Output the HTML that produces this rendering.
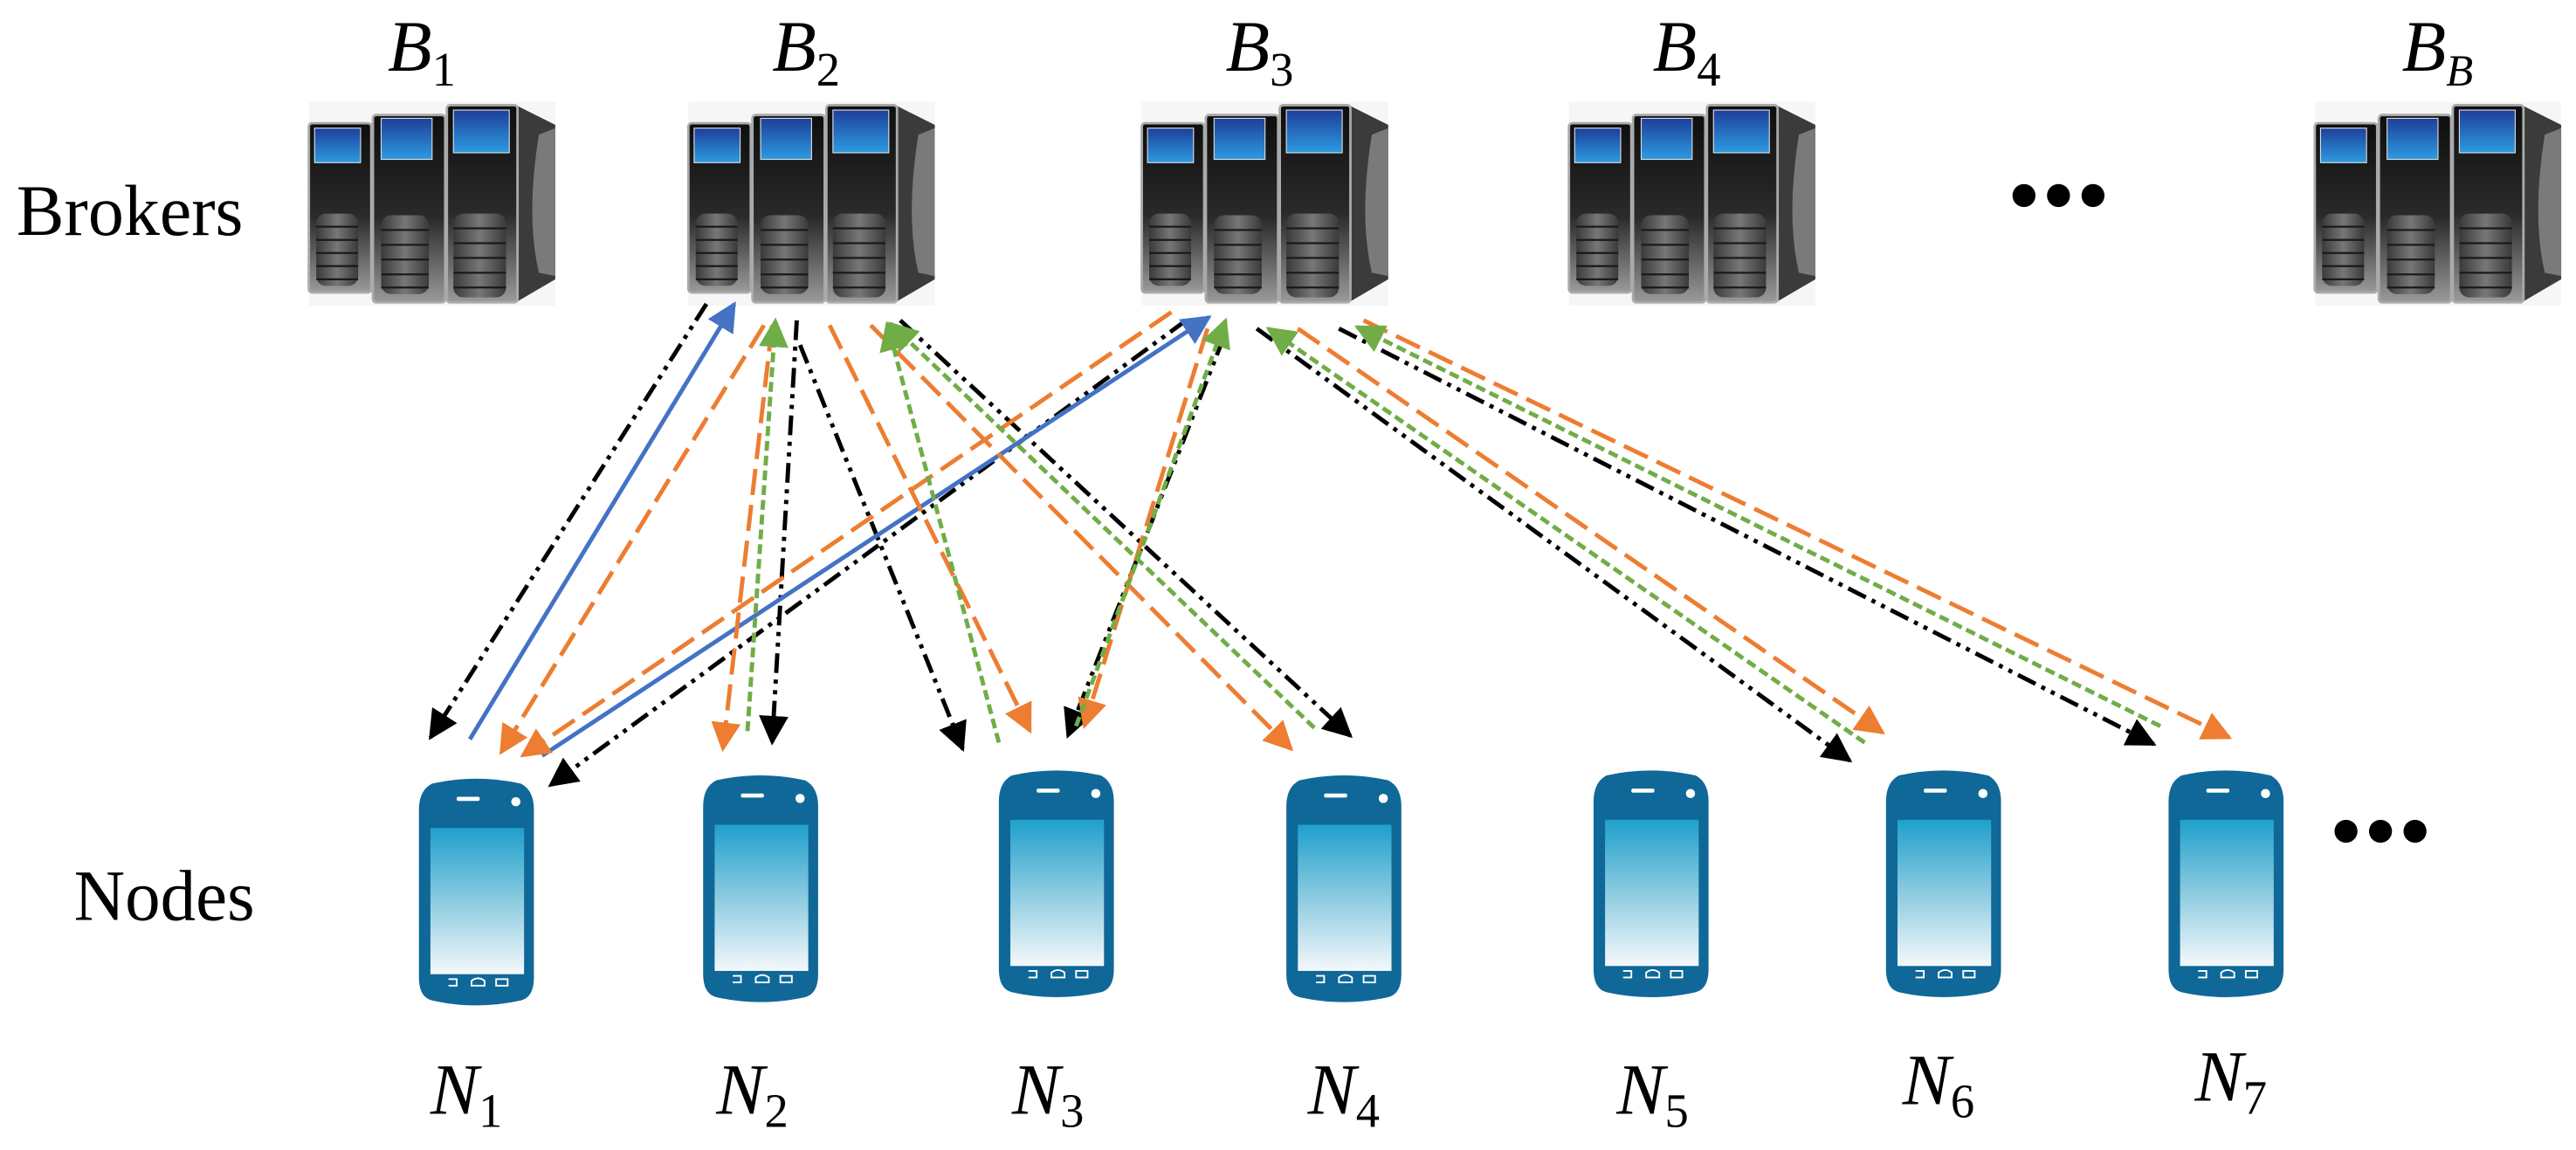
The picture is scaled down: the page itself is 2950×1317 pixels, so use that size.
<!DOCTYPE html>
<html><head><meta charset="utf-8"><style>html,body{margin:0;padding:0;background:#fff}svg{display:block}</style></head>
<body>
<svg width="2950" height="1317" viewBox="0 0 1568 700" xmlns="http://www.w3.org/2000/svg">
<defs>
<linearGradient id="tw" x1="0" y1="0" x2="0" y2="1"><stop offset="0" stop-color="#0e0e0e"/><stop offset="0.55" stop-color="#2a2a2a"/><stop offset="1" stop-color="#9a9a9a"/></linearGradient>
<linearGradient id="scr" x1="0" y1="0" x2="0" y2="1"><stop offset="0" stop-color="#1d3f9a"/><stop offset="1" stop-color="#2d9be0"/></linearGradient>
<linearGradient id="bay" x1="0" y1="0" x2="1" y2="0"><stop offset="0" stop-color="#3a3a3a"/><stop offset="0.5" stop-color="#777"/><stop offset="1" stop-color="#3a3a3a"/></linearGradient>
<linearGradient id="ph" x1="0" y1="0" x2="0" y2="1"><stop offset="0" stop-color="#1fa0cc"/><stop offset="0.5" stop-color="#8ccbe0"/><stop offset="1" stop-color="#f4f8fb"/></linearGradient>
<g id="srv">
<rect x="0" y="0" width="150" height="124" fill="#f6f6f6"/>
<polygon points="126,2 150,14 150,108 126,122" fill="#3b3b3b"/>
<path d="M140,20 Q132,70 140,104 L150,106 L150,16Z" fill="#7a7a7a"/>
<rect x="0" y="13" width="38" height="103" rx="2" fill="url(#tw)" stroke="#aaa" stroke-width="1.5"/>
<rect x="3.5" y="16" width="28" height="21" fill="url(#scr)" stroke="#ddd" stroke-width="0.6"/>
<rect x="4.5" y="68" width="25.5" height="44" rx="6" fill="url(#bay)"/>
<g stroke="#1a1a1a" stroke-width="1.2"><line x1="4.5" y1="76" x2="30" y2="76"/><line x1="4.5" y1="84" x2="30" y2="84"/><line x1="4.5" y1="92" x2="30" y2="92"/><line x1="4.5" y1="100" x2="30" y2="100"/><line x1="4.5" y1="108" x2="30" y2="108"/></g>
<rect x="39" y="8" width="44" height="114" rx="2" fill="url(#tw)" stroke="#aaa" stroke-width="1.5"/>
<rect x="44" y="10" width="31" height="25" fill="url(#scr)" stroke="#ddd" stroke-width="0.6"/>
<rect x="44" y="69" width="29" height="48" rx="6" fill="url(#bay)"/>
<g stroke="#1a1a1a" stroke-width="1.2"><line x1="44" y1="78" x2="73" y2="78"/><line x1="44" y1="87" x2="73" y2="87"/><line x1="44" y1="96" x2="73" y2="96"/><line x1="44" y1="105" x2="73" y2="105"/><line x1="44" y1="113" x2="73" y2="113"/></g>
<rect x="84" y="2" width="43" height="120" rx="2" fill="url(#tw)" stroke="#aaa" stroke-width="1.5"/>
<rect x="88" y="5" width="34" height="26" fill="url(#scr)" stroke="#ddd" stroke-width="0.6"/>
<rect x="88" y="68" width="32" height="51" rx="6" fill="url(#bay)"/>
<g stroke="#1a1a1a" stroke-width="1.2"><line x1="88" y1="77" x2="120" y2="77"/><line x1="88" y1="86" x2="120" y2="86"/><line x1="88" y1="95" x2="120" y2="95"/><line x1="88" y1="104" x2="120" y2="104"/><line x1="88" y1="113" x2="120" y2="113"/></g>
</g>
<g id="phn">
<path d="M8,4 Q35,-2 62,4 Q70,8 70,20 L70,122 Q70,134 62,136 Q35,142 8,136 Q0,134 0,122 L0,20 Q0,8 8,4Z" fill="#0f6898"/>
<rect x="23" y="12" width="14" height="2.5" rx="1" fill="#fff"/>
<circle cx="59" cy="15" r="2.8" fill="#fff"/>
<rect x="7" y="31" width="57" height="89" fill="url(#ph)"/>
<g stroke="#fff" stroke-width="1" fill="none"><path d="M18,123 h5 v4 h-5"/><path d="M32,127 v-3 q4,-3 8,0 v3 z"/><rect x="47" y="123" width="7" height="4"/></g>
</g>
<marker id="ao" viewBox="0 0 10 10" refX="9" refY="5" markerWidth="18" markerHeight="18" orient="auto" markerUnits="userSpaceOnUse"><path d="M0,0 L10,5 L0,10z" fill="#ed7d31"/></marker>
<marker id="ag" viewBox="0 0 10 10" refX="9" refY="5" markerWidth="18" markerHeight="18" orient="auto" markerUnits="userSpaceOnUse"><path d="M0,0 L10,5 L0,10z" fill="#70ad47"/></marker>
<marker id="ab" viewBox="0 0 10 10" refX="9" refY="5" markerWidth="18" markerHeight="18" orient="auto" markerUnits="userSpaceOnUse"><path d="M0,0 L10,5 L0,10z" fill="#4472c4"/></marker>
<marker id="ak2" viewBox="0 0 10 10" refX="9" refY="5" markerWidth="18" markerHeight="18" orient="auto" markerUnits="userSpaceOnUse"><path d="M0,0 L10,5 L0,10z" fill="#000"/></marker>
</defs>

<g font-family="Liberation Serif, serif" font-size="44" fill="#000">
<text x="10" y="143" textLength="138" lengthAdjust="spacingAndGlyphs">Brokers</text>
<text x="45" y="560" textLength="110" lengthAdjust="spacingAndGlyphs">Nodes</text>
</g>
<g font-family="Liberation Serif, serif" font-style="italic" font-size="44">
<text x="236" y="43">B<tspan font-style="normal" font-size="29" dy="9">1</tspan></text>
<text x="470" y="43">B<tspan font-style="normal" font-size="29" dy="9">2</tspan></text>
<text x="746" y="43">B<tspan font-style="normal" font-size="29" dy="9">3</tspan></text>
<text x="1006" y="43">B<tspan font-style="normal" font-size="29" dy="9">4</tspan></text>
<text x="1462" y="43">B<tspan font-size="27" dy="9">B</tspan></text>
<text x="262" y="678">N<tspan font-style="normal" font-size="29" dy="8">1</tspan></text>
<text x="436" y="678">N<tspan font-style="normal" font-size="29" dy="8">2</tspan></text>
<text x="616" y="678">N<tspan font-style="normal" font-size="29" dy="8">3</tspan></text>
<text x="796" y="678">N<tspan font-style="normal" font-size="29" dy="8">4</tspan></text>
<text x="984" y="678">N<tspan font-style="normal" font-size="29" dy="8">5</tspan></text>
<text x="1158" y="672">N<tspan font-style="normal" font-size="29" dy="8">6</tspan></text>
<text x="1336" y="670">N<tspan font-style="normal" font-size="29" dy="8">7</tspan></text>
</g>
<g fill="#000"><circle cx="1232" cy="119" r="7"/><circle cx="1253" cy="119" r="7"/><circle cx="1274" cy="119" r="7"/>
<circle cx="1428" cy="506" r="7"/><circle cx="1449" cy="506" r="7"/><circle cx="1470" cy="506" r="7"/></g>

<use href="#srv" x="188" y="62"/>
<use href="#srv" x="419" y="62"/>
<use href="#srv" x="695" y="62"/>
<use href="#srv" x="955" y="62"/>
<use href="#srv" x="1409" y="62"/>

<use href="#phn" x="255" y="473"/>
<use href="#phn" x="428" y="471"/>
<use href="#phn" x="608" y="468"/>
<use href="#phn" x="783" y="471"/>
<use href="#phn" x="970" y="468"/>
<use href="#phn" x="1148" y="468"/>
<use href="#phn" x="1320" y="468"/>

<g fill="none" stroke-width="2.6">
<g stroke="#000" stroke-dasharray="12,4,2.5,4,2.5,4" marker-end="url(#ak2)">
<line x1="430" y1="185" x2="262" y2="449"/>
<line x1="722" y1="195" x2="335" y2="478"/>
<line x1="485" y1="195" x2="470" y2="452"/>
<line x1="487" y1="210" x2="586" y2="456"/>
<line x1="548" y1="195" x2="822" y2="448"/>
<line x1="745" y1="205" x2="650" y2="448"/>
<line x1="765" y1="200" x2="1126" y2="463"/>
<line x1="815" y1="200" x2="1311" y2="453"/>
</g>
<g stroke="#4472c4" marker-end="url(#ab)">
<line x1="286" y1="450" x2="447" y2="185"/>
<line x1="330" y1="460" x2="736" y2="193"/>
</g>
<g stroke="#ed7d31" stroke-dasharray="16,6" marker-end="url(#ao)">
<line x1="465" y1="198" x2="305" y2="458"/>
<line x1="713" y1="190" x2="318" y2="460"/>
<line x1="470" y1="198" x2="440" y2="456"/>
<line x1="505" y1="198" x2="627" y2="445"/>
<line x1="530" y1="198" x2="786" y2="456"/>
<line x1="735" y1="200" x2="660" y2="442"/>
<line x1="790" y1="200" x2="1146" y2="446"/>
<line x1="830" y1="195" x2="1357" y2="449"/>
</g>
<g stroke="#70ad47" stroke-dasharray="6,3" marker-end="url(#ag)">
<line x1="455" y1="445" x2="472" y2="195"/>
<line x1="608" y1="452" x2="540" y2="197"/>
<line x1="800" y1="443" x2="542" y2="197"/>
<line x1="655" y1="442" x2="746" y2="195"/>
<line x1="1135" y1="452" x2="772" y2="200"/>
<line x1="1315" y1="442" x2="826" y2="199"/>
</g>
</g>
</svg>
</body></html>
